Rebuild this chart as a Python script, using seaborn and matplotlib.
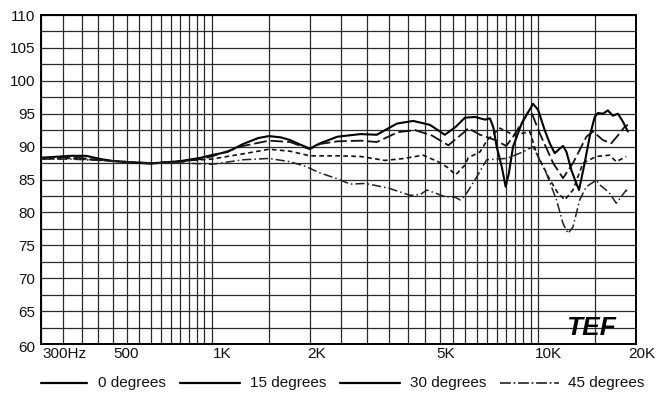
import numpy as np
import pandas as pd
import matplotlib
matplotlib.use("Agg")
import matplotlib.pyplot as plt
import matplotlib.transforms as mtransforms
from matplotlib.lines import Line2D
import seaborn as sns

# ---------------- data ----------------
series_names = ["0 degrees", "15 degrees", "30 degrees", "45 degrees"]

freq_0 = [300, 370, 412, 458, 500, 565, 651, 723, 804, 926, 1000, 1120, 1250, 1390, 1500,
          1630, 1740, 1870, 2000, 2150, 2430, 2860, 3210, 3700, 4150, 4670, 5190, 5600,
          5980, 6420, 6890, 7130, 7300, 7480, 7750, 7970, 8150, 8400, 8920, 9670, 10020,
          10500, 10880, 11270, 11680, 11950, 12240, 12680, 13130, 13380, 13920, 14420,
          14940, 15290, 15840, 16400, 16990, 17600, 18230, 18880]
db_0 = [88.3, 88.6, 88.6, 88.1, 87.8, 87.6, 87.4, 87.6, 87.8, 88.3, 88.7, 89.2, 90.4, 91.3, 91.6,
        91.4, 91.0, 90.3, 89.7, 90.5, 91.5, 91.9, 91.8, 93.5, 93.9, 93.3, 91.8, 93.0,
        94.4, 94.5, 94.1, 94.3, 93.0, 90.0, 87.0, 83.9, 85.9, 90.0, 93.5, 96.5, 95.6,
        92.5, 90.5, 89.0, 89.7, 90.1, 89.2, 86.4, 84.4, 83.4, 87.5, 91.5,
        94.5, 95.1, 95.0, 95.5, 94.7, 95.0, 93.8, 92.3]

freq_15 = [300, 370, 500, 651, 804, 926, 1000, 1250, 1500, 1740, 2000, 2150, 2430, 2860, 3210,
           3730, 4210, 4730, 5320, 5980, 6120, 6650, 7400, 8000, 8400, 8900, 9320, 9600,
           10140, 11140, 11950, 12820, 13440, 14090, 14760, 15830, 16800, 17810, 18450, 18880]
db_15 = [88.3, 88.4, 87.8, 87.5, 87.7, 88.1, 88.5, 90.1, 90.9, 90.7, 89.6, 90.4, 90.8, 90.9, 90.7,
         92.2, 92.5, 91.7, 90.2, 92.3, 92.8, 91.8, 91.0, 90.1, 91.5, 93.5, 95.2, 95.0,
         92.0, 87.5, 85.2, 87.5, 89.5, 91.5, 92.3, 91.0, 90.5, 92.0, 93.0, 93.3]

freq_30 = [300, 370, 500, 651, 804, 1000, 1250, 1500, 1740, 2000, 2430, 2860, 3400, 3900, 4450,
           4950, 5300, 5600, 5980, 6120, 6650, 7000, 7650, 8400, 8920, 9450, 9910, 10880,
           11500, 12100, 12820, 13760, 15120, 16600, 17400, 18670]
db_30 = [88.1, 88.2, 87.8, 87.5, 87.8, 88.1, 88.9, 89.6, 89.3, 88.6, 88.6, 88.5, 87.9, 88.2, 88.7,
         87.7, 86.8, 85.7, 87.2, 88.3, 89.2, 91.0, 92.8, 91.8, 92.0, 92.3, 89.0, 85.0,
         83.0, 81.9, 83.4, 87.5, 88.5, 88.7, 87.7, 88.5]

freq_45 = [300, 370, 500, 651, 804, 926, 1000, 1250, 1500, 1740, 1940, 2150, 2430, 2660, 2960,
           3480, 4060, 4360, 4570, 5190, 5580, 5780, 5980, 6500, 6970, 8020, 9020, 9670,
           10630, 11410, 11950, 12380, 12820, 13440, 14090, 15120, 15470, 16200, 16600,
           17400, 18030, 18670, 18880]
db_45 = [88.1, 88.1, 87.8, 87.5, 87.5, 87.4, 87.3, 88.0, 88.2, 87.7, 87.0, 86.0, 85.1, 84.3, 84.4,
         83.7, 82.6, 82.7, 83.4, 82.4, 82.3, 81.9, 82.5, 85.4, 88.0, 88.2, 89.2, 90.0,
         85.9, 81.9, 78.3, 76.8, 77.8, 81.9, 83.9, 84.9, 84.2, 83.4, 82.9,
         81.4, 82.4, 83.4, 82.9]

x_tick_values = [300, 500, 1000, 2000, 5000, 10000, 20000]
x_tick_labels = ["300Hz", "500", "1K", "2K", "5K", "10K", "20K"]
y_tick_values = [60, 65, 70, 75, 80, 85, 90, 95, 100, 105, 110]

# ---------------- build long table ----------------
frames = []
for name, f, d in zip(series_names, [freq_0, freq_15, freq_30, freq_45],
                      [db_0, db_15, db_30, db_45]):
    frames.append(pd.DataFrame({"freq": f, "db": d, "series": name}))
df = pd.concat(frames, ignore_index=True)

sns.set_theme(style="white")
plt.rcParams["font.family"] = ["Liberation Sans", "DejaVu Sans"]

W, H = 668, 394
fig = plt.figure(figsize=(W / 100, H / 100), dpi=100)
ax_l, ax_r, ax_t, ax_b = 41, 636, 15, 344
ax = fig.add_axes([ax_l / W, 1 - ax_b / H, (ax_r - ax_l) / W, (ax_b - ax_t) / H])

palette = {"0 degrees": "#000000", "15 degrees": "#111111",
           "30 degrees": "#111111", "45 degrees": "#222222"}
dashes = {"0 degrees": "", "15 degrees": (7, 2.2),
          "30 degrees": (2.8, 2.0), "45 degrees": (6, 2, 1, 2)}
widths = {"0 degrees": 1.5, "15 degrees": 1.3, "30 degrees": 1.2, "45 degrees": 1.1}

sns.lineplot(data=df, x="freq", y="db", hue="series", style="series",
             palette=palette, dashes=dashes, estimator=None, sort=True,
             legend=False, ax=ax, zorder=3)
for line, name in zip(ax.get_lines(), series_names):
    line.set_linewidth(widths[name])

ax.set_xscale("log")
ax.set_xlim(300, 20000)
ax.set_ylim(60, 110)

# grid lines
minor_x = ([v for v in range(350, 1000, 50)] + [1500] +
           [v for v in range(2500, 10000, 500) if v != 5000] + [15000])
ax.set_xticks(x_tick_values)
ax.set_xticks(minor_x, minor=True)
ax.set_xticklabels(x_tick_labels)
ax.xaxis.set_minor_formatter(matplotlib.ticker.NullFormatter())
ax.set_yticks(y_tick_values)
ax.set_yticks(np.arange(62.5, 110, 5), minor=True)
ax.set_yticklabels([str(v) for v in y_tick_values])
ax.grid(True, which="both", color="#2a2a2a", linewidth=0.9, zorder=1)
ax.set_axisbelow(True)
ax.tick_params(axis="both", which="both", length=0)
ax.tick_params(axis="x", pad=2, labelsize=11, colors="#111111")
ax.tick_params(axis="y", pad=4, labelsize=11, colors="#111111")
ax.set_xlabel("")
ax.set_ylabel("")
for s in ax.spines.values():
    s.set_color("black")
    s.set_linewidth(1.4)

# shift x labels like the reference
offsets = [1, 0, 1, -3, -3, -3, 6]
aligns = ["left", "left", "left", "left", "left", "left", "center"]
for lab, dx, ha in zip(ax.get_xticklabels(), offsets, aligns):
    lab.set_horizontalalignment(ha)
    lab.set_transform(lab.get_transform() +
                      mtransforms.ScaledTranslation(dx / 100, 0, fig.dpi_scale_trans))
ax.get_yticklabels()[0].set_transform(
    ax.get_yticklabels()[0].get_transform() +
    mtransforms.ScaledTranslation(0, -3 / 100, fig.dpi_scale_trans))

# TEF logo
ax.text((591 - ax_l) / (ax_r - ax_l), (ax_b - 328) / (ax_b - ax_t), "TEF",
        transform=ax.transAxes, ha="center", va="center", fontsize=19,
        fontweight="heavy", fontstyle="italic", color="black", zorder=5)

# legend drawn along the bottom
leg_y = 1 - 382.5 / H
leg_items = [(41, 87, 98), (180, 240, 250), (340, 400, 410), (500, 559, 568)]
leg_styles = [dict(ls="-", lw=1.6, color="black"),
              dict(ls="-", lw=1.6, color="black"),
              dict(ls="-", lw=1.6, color="black"),
              dict(ls=(0, (6, 1.5, 1, 1.5)), lw=1.3, color="#333333")]
for name, (x0, x1, xt), st in zip(series_names, leg_items, leg_styles):
    fig.add_artist(Line2D([x0 / W, x1 / W], [leg_y, leg_y], transform=fig.transFigure, **st))
    fig.text(xt / W, leg_y, name, ha="left", va="center", fontsize=11, color="#111111")

fig.savefig("out.png", dpi=100, facecolor="white")
